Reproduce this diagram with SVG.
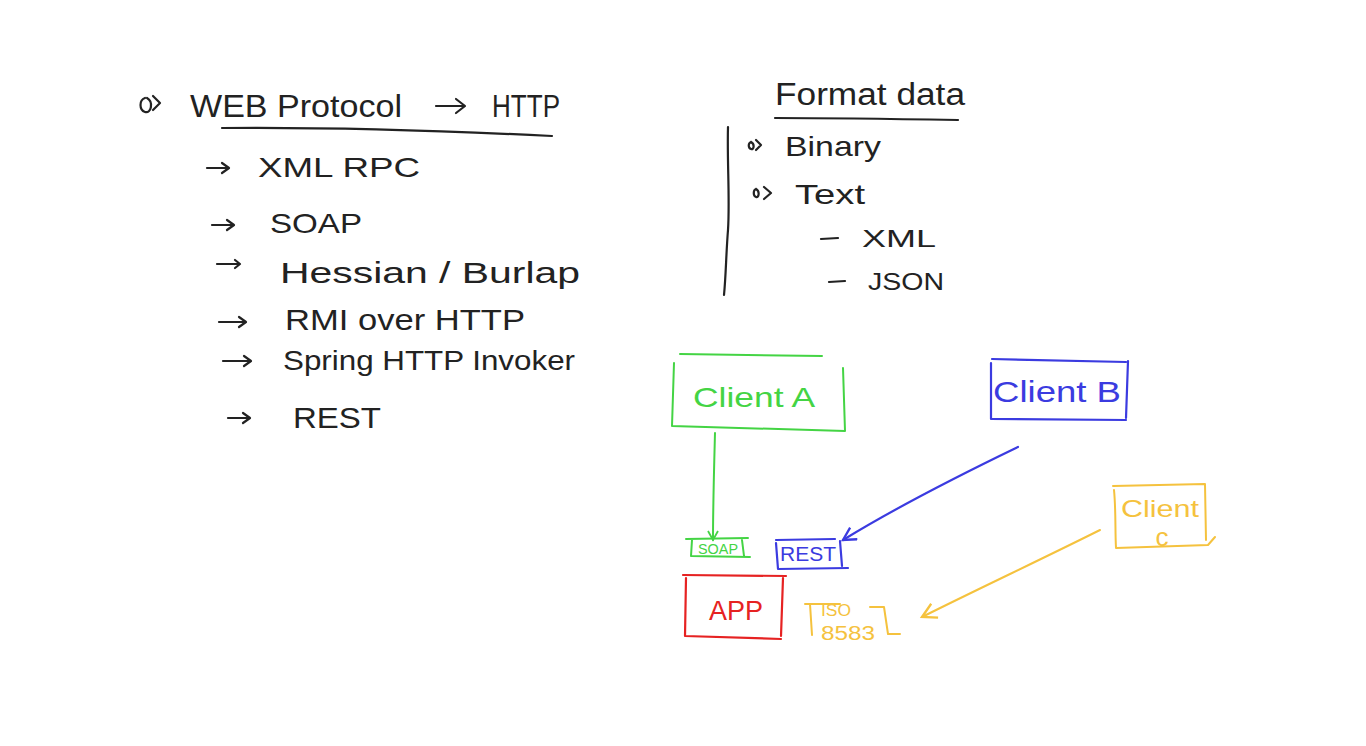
<svg xmlns="http://www.w3.org/2000/svg" width="1366" height="746" viewBox="0 0 1366 746">
<defs>
<style>
.t{font-family:"Liberation Sans","DejaVu Sans",sans-serif;fill:#222;}
.ink{fill:none;stroke:#222;stroke-width:2.2;stroke-linecap:round;stroke-linejoin:round;}
.g{fill:none;stroke:#44d444;stroke-width:2;stroke-linecap:round;stroke-linejoin:round;}
.b{fill:none;stroke:#3b3be0;stroke-width:2.2;stroke-linecap:round;stroke-linejoin:round;}
.r{fill:none;stroke:#e62222;stroke-width:2.2;stroke-linecap:round;stroke-linejoin:round;}
.o{fill:none;stroke:#f5c23e;stroke-width:2;stroke-linecap:round;stroke-linejoin:round;}
.tg{font-family:"Liberation Sans",sans-serif;fill:#44d444;}
.tb{font-family:"Liberation Sans",sans-serif;fill:#3b3be0;}
.tr{font-family:"Liberation Sans",sans-serif;fill:#e62222;}
.to{font-family:"Liberation Sans",sans-serif;fill:#f5c23e;}
</style>
<marker id="ag" viewBox="0 0 12 12" refX="10" refY="6" markerWidth="12" markerHeight="12" markerUnits="userSpaceOnUse" orient="auto"><path d="M1,1 L10,6 L1,11" fill="none" stroke="#44d444" stroke-width="1.8"/></marker>
<marker id="ab" viewBox="0 0 14 14" refX="12" refY="7" markerWidth="16" markerHeight="16" markerUnits="userSpaceOnUse" orient="auto"><path d="M1,1 L12,7 L1,13" fill="none" stroke="#3b3be0" stroke-width="2"/></marker>
<marker id="ao" viewBox="0 0 14 14" refX="12" refY="7" markerWidth="18" markerHeight="18" markerUnits="userSpaceOnUse" orient="auto"><path d="M1,1 L12,7 L1,13" fill="none" stroke="#f5c23e" stroke-width="1.8"/></marker>
</defs>
<rect width="1366" height="746" fill="#ffffff"/>

<g id="web-protocol">
<path class="ink" d="M145,98 c-6,2 -6,12 0,14 c6,2 9,-10 2,-14 M153,96 l7,7 l-7,7"/>
<text class="t" x="190" y="117" font-size="32" textLength="212" lengthAdjust="spacingAndGlyphs">WEB Protocol</text>
<path class="ink" d="M436,106 L464,106 M456,99 L465,106 L456,113"/>
<text class="t" x="492" y="117" font-size="32" textLength="68" lengthAdjust="spacingAndGlyphs">HTTP</text>
<path class="ink" d="M222,128 C330,127 450,131 552,136"/>
</g>

<g id="list">
<path class="ink" d="M207,168 L229,168 M222,163 L229,168 L222,173"/>
<text class="t" x="258" y="177" font-size="28" textLength="162" lengthAdjust="spacingAndGlyphs">XML RPC</text>
<path class="ink" d="M212,225 L234,225 M227,220 L234,225 L227,230"/>
<text class="t" x="270" y="233" font-size="28" textLength="92" lengthAdjust="spacingAndGlyphs">SOAP</text>
<path class="ink" d="M217,264 L240,264 M235,260 L240,264 L235,268"/>
<text class="t" x="280" y="283" font-size="29" textLength="300" lengthAdjust="spacingAndGlyphs">Hessian / Burlap</text>
<path class="ink" d="M219,322 L246,322 M239,317 L246,322 L239,327"/>
<text class="t" x="285" y="330" font-size="29" textLength="240" lengthAdjust="spacingAndGlyphs">RMI over HTTP</text>
<path class="ink" d="M223,361 L251,361 M244,356 L251,361 L244,366"/>
<text class="t" x="283" y="370" font-size="28" textLength="292" lengthAdjust="spacingAndGlyphs">Spring HTTP Invoker</text>
<path class="ink" d="M228,418 L250,418 M243,413 L250,418 L243,423"/>
<text class="t" x="293" y="428" font-size="29" textLength="88" lengthAdjust="spacingAndGlyphs">REST</text>
</g>

<g id="format-data">
<text class="t" x="775" y="105" font-size="31" textLength="190" lengthAdjust="spacingAndGlyphs">Format data</text>
<path class="ink" d="M775,118 C840,118 900,119 958,120"/>
<path class="ink" d="M728,127 C727,160 730,200 728,230 C726,255 726,275 724,295"/>
<path class="ink" d="M751,142 c-3,1 -3,6 0,7 c3,1 4,-5 0,-7 M756,140 l5,5 l-5,5"/>
<text class="t" x="785" y="156" font-size="28" textLength="96" lengthAdjust="spacingAndGlyphs">Binary</text>
<path class="ink" d="M756,189 c-3,1 -3,7 0,8 c3,1 4,-6 0,-8 M764,187 l7,6 l-7,6"/>
<text class="t" x="795" y="204" font-size="28" textLength="70" lengthAdjust="spacingAndGlyphs">Text</text>
<path class="ink" d="M821,239 L838,238"/>
<text class="t" x="862" y="247" font-size="24" textLength="74" lengthAdjust="spacingAndGlyphs">XML</text>
<path class="ink" d="M829,282 L845,281"/>
<text class="t" x="868" y="290" font-size="24" textLength="76" lengthAdjust="spacingAndGlyphs">JSON</text>
</g>

<g id="client-a">
<path class="g" d="M680,354 L822,356 M674,363 L672,426 L845,431 L843,368"/>
<text class="tg" x="754" y="407" font-size="28" text-anchor="middle" textLength="122" lengthAdjust="spacingAndGlyphs">Client A</text>
</g>

<g id="client-b">
<path class="b" d="M992,359 L1126,362 M991,363 L991,419 L1126,420 M1128,361 L1126,418"/>
<text class="tb" x="1057" y="402" font-size="30" text-anchor="middle" textLength="128" lengthAdjust="spacingAndGlyphs">Client B</text>
</g>

<g id="client-c">
<path class="o" d="M1113,486 L1205,484 L1206,540 M1114,490 C1116,510 1115,530 1116,548 L1208,545 L1215,537"/>
<text class="to" x="1160" y="517" font-size="24" text-anchor="middle" textLength="78" lengthAdjust="spacingAndGlyphs">Client</text>
<text class="to" x="1162" y="546" font-size="26" text-anchor="middle">c</text>
</g>

<g id="soap">
<path class="g" d="M686,539 L748,538 M692,540 L691,556 L750,557 M742,540 L744,556"/>
<text class="tg" x="718" y="554" font-size="14" text-anchor="middle" textLength="40" lengthAdjust="spacingAndGlyphs">SOAP</text>
</g>

<g id="rest">
<path class="b" d="M776,540 L835,539 M776,543 L778,569 L848,568 M840,541 L842,566"/>
<text class="tb" x="808" y="561" font-size="20" text-anchor="middle" textLength="56" lengthAdjust="spacingAndGlyphs">REST</text>
</g>

<g id="app">
<path class="r" d="M683,575 L786,576 M686,578 L685,636 L781,639 M783,578 L781,636"/>
<text class="tr" x="736" y="620" font-size="28" text-anchor="middle" textLength="54" lengthAdjust="spacingAndGlyphs">APP</text>
</g>

<g id="iso8583">
<path class="o" d="M805,604 L840,604 M810,604 L812,635 M870,607 L884,607 L888,634 L900,634"/>
<text class="to" x="836" y="616" font-size="16" text-anchor="middle" textLength="30" lengthAdjust="spacingAndGlyphs">ISO</text>
<text class="to" x="848" y="640" font-size="20" text-anchor="middle" textLength="54" lengthAdjust="spacingAndGlyphs">8583</text>
</g>

<g id="connectors">
<path class="g" d="M715,433 C714,470 713,505 713,540" marker-end="url(#ag)"/>
<path class="b" d="M1018,447 C960,475 900,505 843,540" marker-end="url(#ab)"/>
<path class="o" d="M1100,530 C1040,560 980,588 922,617" marker-end="url(#ao)"/>
</g>
</svg>
